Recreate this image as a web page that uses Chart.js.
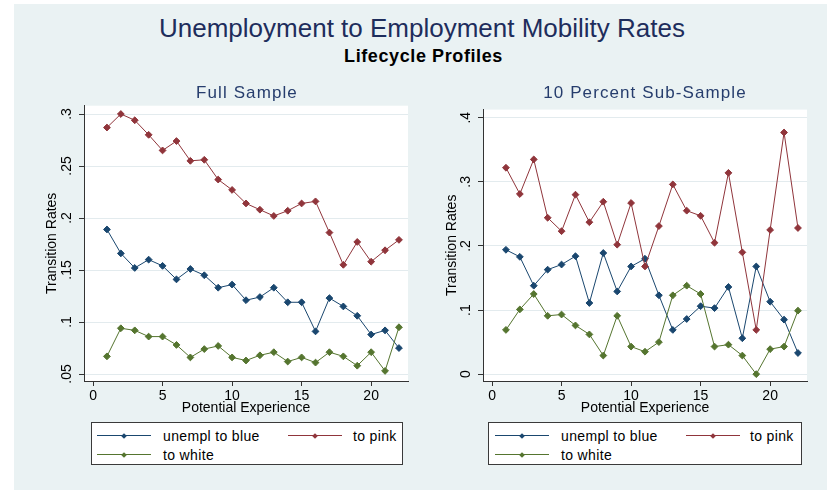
<!DOCTYPE html>
<html>
<head>
<meta charset="utf-8">
<script src="https://cdn.jsdelivr.net/npm/chart.js@4"></script>
<style>
  html, body { margin: 0; padding: 0; background: #ffffff; }
  body { width: 827px; height: 490px; position: relative; overflow: hidden; font-family: "Liberation Sans", Arial, sans-serif; }
  #bg { position: absolute; left: 14px; top: 4px; width: 813px; height: 486px; background: #eaf2f3; }
  .txt { position: absolute; transform: translate(-50%, -50%); line-height: 1; white-space: nowrap; z-index: 5; }
  .panel { position: absolute; }
  .legend { position: absolute; background: #fff; border: 1px solid #3a3a3a; box-sizing: border-box; }
  .lg-line { position: absolute; height: 0; border-top: 1px solid; }
  .lg-mark { position: absolute; width: 4px; height: 4px; transform: translate(-50%, -50%) rotate(45deg); }
  .lg-text { position: absolute; font-size: 14px; letter-spacing: 0.35px; line-height: 1; transform: translateY(-50%); color: #000; white-space: nowrap; }
</style>
</head>
<body>
<div id="bg"></div>
<div class="panel" style="left:0px; top:95px; width:420px; height:330px;"><canvas id="c1" width="420" height="330"></canvas></div>
<div class="panel" style="left:420px; top:95px; width:407px; height:330px;"><canvas id="c2" width="407" height="330"></canvas></div>

<div class="txt" style="left:422px; top:28.4px; font-size:26px; color:#1e2d5c;">Unemployment to Employment Mobility Rates</div>
<div class="txt" style="left:423.5px; top:55.7px; font-size:18px; font-weight:bold; letter-spacing:0.6px; color:#000;">Lifecycle Profiles</div>
<div class="txt" style="left:247px; top:91.5px; font-size:17px; letter-spacing:1.1px; color:#263d6d;">Full Sample</div>
<div class="txt" style="left:645px; top:91.5px; font-size:17px; letter-spacing:1.1px; color:#263d6d;">10 Percent Sub-Sample</div>

<div class="legend" id="leg1" style="left:91px; top:422px; width:312px; height:43px;"></div>
<div class="legend" id="leg2" style="left:488px; top:422px; width:314px; height:43px;"></div>

<script>
// ---------------- data ----------------
const experience = [1,2,3,4,5,6,7,8,9,10,11,12,13,14,15,16,17,18,19,20,21,22];

const seriesNames = ['unempl to blue', 'to pink', 'to white'];
const seriesColors = ['#1a476f', '#90353b', '#55752f'];

const fullBlue  = [0.189,0.166,0.152,0.160,0.154,0.141,0.151,0.145,0.133,0.136,0.121,0.124,0.133,0.119,0.119,0.091,0.123,0.115,0.106,0.088,0.092,0.075];
const fullPink  = [0.287,0.300,0.294,0.280,0.265,0.274,0.255,0.256,0.237,0.227,0.214,0.208,0.202,0.207,0.214,0.216,0.186,0.155,0.177,0.158,0.169,0.179];
const fullWhite = [0.067,0.094,0.092,0.086,0.086,0.078,0.066,0.074,0.077,0.066,0.063,0.068,0.071,0.062,0.066,0.061,0.071,0.067,0.058,0.071,0.053,0.095];

const subBlue   = [0.194,0.183,0.138,0.163,0.171,0.184,0.111,0.189,0.129,0.168,0.180,0.123,0.069,0.086,0.106,0.103,0.136,0.056,0.168,0.113,0.085,0.033];
const subPink   = [0.322,0.281,0.335,0.244,0.223,0.280,0.237,0.269,0.202,0.267,0.168,0.231,0.296,0.255,0.247,0.205,0.314,0.190,0.069,0.225,0.377,0.228];
const subWhite  = [0.069,0.101,0.125,0.091,0.093,0.076,0.062,0.029,0.091,0.043,0.035,0.050,0.123,0.138,0.125,0.043,0.046,0.029,0.000,0.039,0.043,0.099];

const xTickValues = [0, 5, 10, 15, 20];
const xTickLabels = ['0', '5', '10', '15', '20'];
const fullYTickValues = [0.05, 0.1, 0.15, 0.2, 0.25, 0.3];
const fullYTickLabels = ['.05', '.1', '.15', '.2', '.25', '.3'];
const subYTickValues = [0, 0.1, 0.2, 0.3, 0.4];
const subYTickLabels = ['0', '.1', '.2', '.3', '.4'];

const xTitle = 'Potential Experience';
const yTitle = 'Transition Rates';

// ---------------- chart setup ----------------
Chart.defaults.font.family = '"Liberation Sans", Arial, sans-serif';
Chart.defaults.color = '#000';

const plotBg = {
  id: 'plotBg',
  beforeDraw(chart) {
    const a = chart.chartArea, ctx = chart.ctx;
    ctx.save();
    ctx.fillStyle = '#ffffff';
    ctx.fillRect(a.left, a.top, a.right - a.left, a.bottom - a.top);
    ctx.restore();
  }
};

function makeDatasets(vals) {
  return vals.map((v, i) => ({
    label: seriesNames[i],
    data: experience.map((x, j) => ({ x: x, y: v[j] })),
    borderColor: seriesColors[i],
    backgroundColor: seriesColors[i],
    pointBackgroundColor: seriesColors[i],
    pointBorderColor: seriesColors[i],
    borderWidth: 1,
    pointStyle: 'rectRot',
    pointRadius: 3.4,
    pointBorderWidth: 1,
    tension: 0,
    clip: false,
    order: 3 - i
  }));
}

function makeChart(id, vals, yVals, yLabels, yMin, yMax, opts) {
  return new Chart(document.getElementById(id), {
    type: 'line',
    data: { datasets: makeDatasets(vals) },
    plugins: [plotBg],
    options: {
      responsive: false,
      animation: false,
      devicePixelRatio: 1,
      layout: { padding: { left: 0, top: 10, right: opts.padRight, bottom: 0 } },
      plugins: { legend: { display: false }, tooltip: { enabled: false }, title: { display: false } },
      scales: {
        x: {
          type: 'linear',
          min: -0.65, max: 22.65,
          afterBuildTicks(s) { s.ticks = xTickValues.map(v => ({ value: v })); },
          afterFit(s) { s.height = 44; },
          ticks: {
            callback(v) { const k = xTickValues.indexOf(v); return k >= 0 ? xTickLabels[k] : ''; },
            font: { size: 14 }, color: '#000', padding: 2, maxRotation: 0, autoSkip: false
          },
          grid: { display: true, drawOnChartArea: false, drawTicks: true, tickLength: 5, tickColor: '#333', tickWidth: 1 },
          border: { display: true, color: '#333', width: 1 },
          title: { display: true, text: xTitle, font: { size: 14 }, color: '#000', padding: { top: 0, bottom: 8.6 } }
        },
        y: {
          type: 'linear',
          min: yMin, max: yMax,
          afterBuildTicks(s) { s.ticks = yVals.map(v => ({ value: v })); },
          afterFit(s) { s.width = opts.yWidth; },
          ticks: {
            callback(v) { const k = yVals.findIndex(t => Math.abs(t - v) < 1e-9); return k >= 0 ? yLabels[k] : ''; },
            font: { size: 14 }, color: '#000',
            minRotation: 90, maxRotation: 90, crossAlign: 'center', padding: opts.tickPad, autoSkip: false
          },
          grid: { display: true, drawOnChartArea: true, color: '#e3ebee', lineWidth: 1, drawTicks: true, tickLength: 5, tickColor: '#333', tickWidth: 1 },
          border: { display: true, color: '#333', width: 1 },
          title: { display: true, text: yTitle, font: { size: 14 }, color: '#000', padding: { top: opts.titlePad, bottom: 0 } }
        }
      }
    }
  });
}

makeChart('c1', [fullBlue, fullPink, fullWhite], fullYTickValues, fullYTickLabels, 0.0433, 0.308,
  { padRight: 12, yWidth: 84, tickPad: 2.3, titlePad: 44.1 });
makeChart('c2', [subBlue, subPink, subWhite], subYTickValues, subYTickLabels, -0.0107, 0.4127,
  { padRight: 20, yWidth: 63, tickPad: 6.2, titlePad: 24.1 });

// ---------------- legends (HTML) ----------------
function buildLegend(id, pos) {
  const el = document.getElementById(id);
  const rows = [
    { i: 0, line: [pos.l1, pos.l1 + 54], text: pos.t1, y: 12.5 },
    { i: 1, line: [pos.l2, pos.l2 + 54], text: pos.t2, y: 12.5 },
    { i: 2, line: [pos.l1, pos.l1 + 54], text: pos.t1, y: 31.5 }
  ];
  rows.forEach(r => {
    const ln = document.createElement('div');
    ln.className = 'lg-line';
    ln.style.left = r.line[0] + 'px';
    ln.style.width = (r.line[1] - r.line[0]) + 'px';
    ln.style.top = (r.y - 0.5) + 'px';
    ln.style.borderColor = seriesColors[r.i];
    el.appendChild(ln);
    const mk = document.createElement('div');
    mk.className = 'lg-mark';
    mk.style.left = ((r.line[0] + r.line[1]) / 2) + 'px';
    mk.style.top = r.y + 'px';
    mk.style.background = seriesColors[r.i];
    el.appendChild(mk);
    const tx = document.createElement('div');
    tx.className = 'lg-text';
    tx.style.left = r.text + 'px';
    tx.style.top = (r.y + 0.5) + 'px';
    tx.textContent = seriesNames[r.i];
    el.appendChild(tx);
  });
}
buildLegend('leg1', { l1: 5, t1: 71, l2: 196, t2: 261 });
buildLegend('leg2', { l1: 6, t1: 72, l2: 197, t2: 261 });
</script>
</body>
</html>
